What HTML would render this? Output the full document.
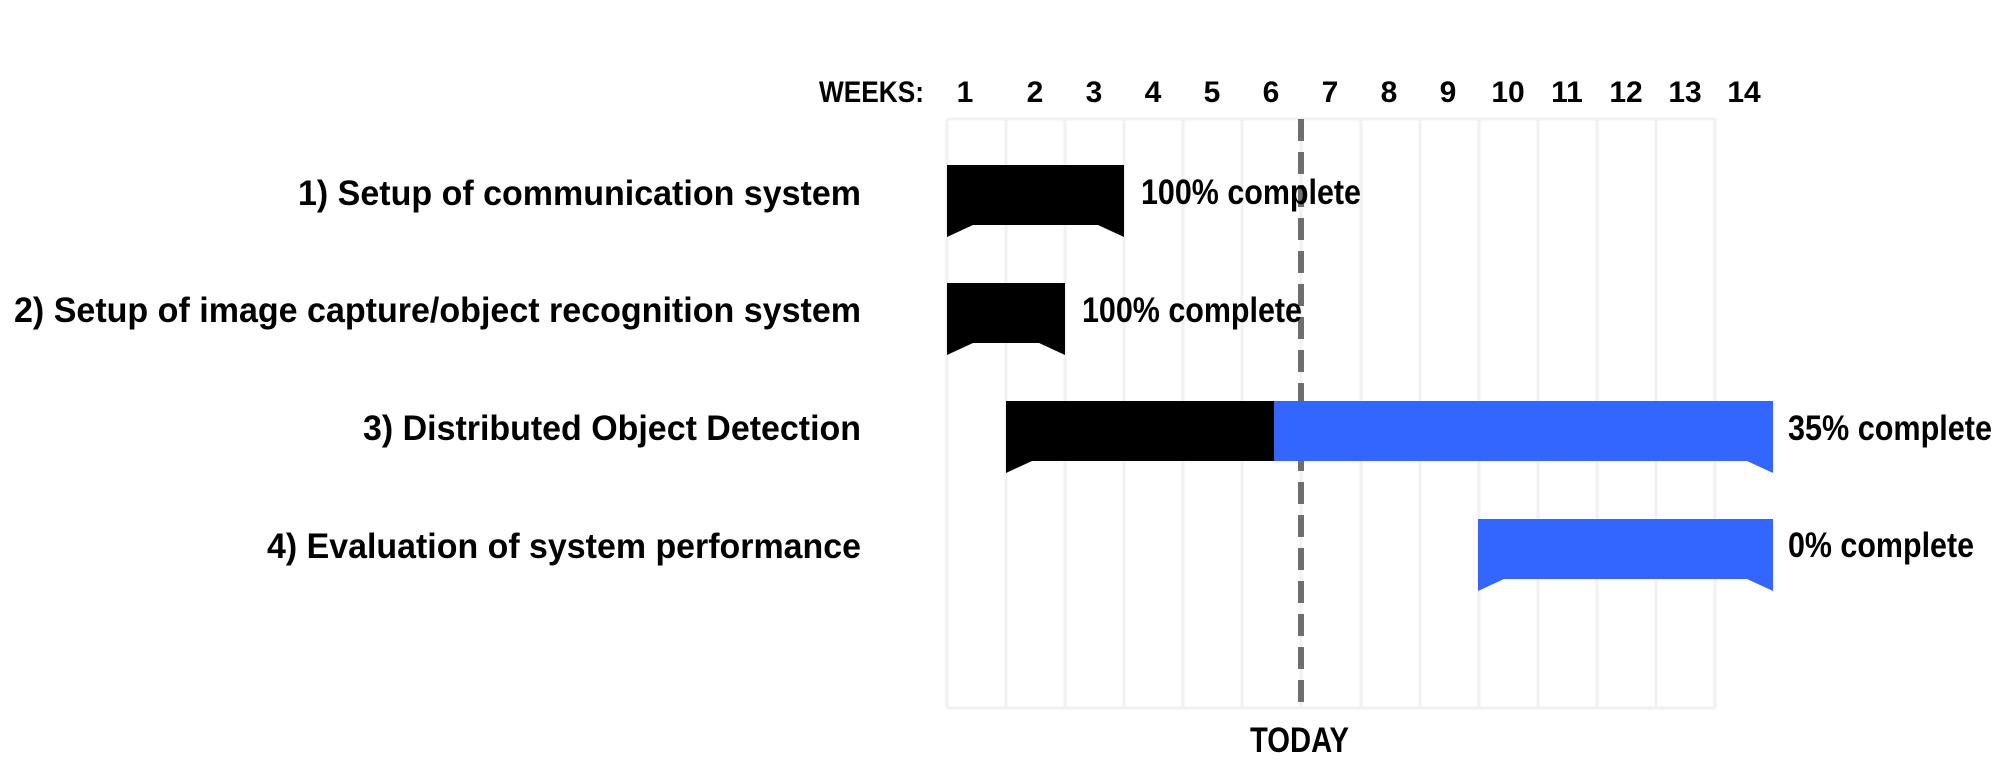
<!DOCTYPE html>
<html><head><meta charset="utf-8"><style>
html,body{margin:0;padding:0;background:#fff;}
svg{display:block;}
text{font-family:"Liberation Sans Narrow","Liberation Sans",sans-serif;font-weight:bold;fill:#000;}
</style></head><body>
<svg width="2007" height="768" viewBox="0 0 2007 768" xmlns="http://www.w3.org/2000/svg">
<rect width="2007" height="768" fill="#fff"/>
<g stroke="#f1f1f1" stroke-width="3" fill="none">
<line x1="947" y1="119" x2="947" y2="708"/>
<line x1="1006" y1="119" x2="1006" y2="708"/>
<line x1="1065" y1="119" x2="1065" y2="708"/>
<line x1="1124" y1="119" x2="1124" y2="708"/>
<line x1="1183" y1="119" x2="1183" y2="708"/>
<line x1="1242" y1="119" x2="1242" y2="708"/>
<line x1="1301" y1="119" x2="1301" y2="708"/>
<line x1="1361" y1="119" x2="1361" y2="708"/>
<line x1="1420" y1="119" x2="1420" y2="708"/>
<line x1="1479" y1="119" x2="1479" y2="708"/>
<line x1="1538" y1="119" x2="1538" y2="708"/>
<line x1="1597" y1="119" x2="1597" y2="708"/>
<line x1="1656" y1="119" x2="1656" y2="708"/>
<line x1="1715" y1="119" x2="1715" y2="708"/>
<line x1="947" y1="119" x2="1715" y2="119"/>
<line x1="947" y1="708" x2="1715" y2="708"/>
</g>
<line x1="1301" y1="119" x2="1301" y2="708" stroke="#6e6e6e" stroke-width="6" stroke-dasharray="22,11"/>
<path d="M947 165 H1124 V237 L1098 225 H973 L947 237 Z" fill="#000"/>
<path d="M947 283 H1065 V355 L1039 343 H973 L947 355 Z" fill="#000"/>
<path d="M1274 401 H1773 V473 L1747 461 H1274 Z" fill="#3366ff"/>
<path d="M1006 401 H1274 V461 H1032 L1006 473 Z" fill="#000"/>
<path d="M1478 519 H1773 V591 L1747 579 H1504 L1478 591 Z" fill="#3366ff"/>
<text x="819" y="102" font-size="30" textLength="105" lengthAdjust="spacingAndGlyphs">WEEKS:</text>
<g font-size="30" text-anchor="middle">
<text x="965" y="102">1</text>
<text x="1035" y="102">2</text>
<text x="1094" y="102">3</text>
<text x="1153" y="102">4</text>
<text x="1212" y="102">5</text>
<text x="1271" y="102">6</text>
<text x="1330" y="102">7</text>
<text x="1389" y="102">8</text>
<text x="1448" y="102">9</text>
<text x="1508" y="102">10</text>
<text x="1567" y="102">11</text>
<text x="1626" y="102">12</text>
<text x="1685" y="102">13</text>
<text x="1744" y="102">14</text>
</g>
<g font-size="35">
<text x="298" y="205" textLength="563" lengthAdjust="spacingAndGlyphs">1) Setup of communication system</text>
<text x="14" y="322" textLength="847" lengthAdjust="spacingAndGlyphs">2) Setup of image capture/object recognition system</text>
<text x="363" y="440" textLength="498" lengthAdjust="spacingAndGlyphs">3) Distributed Object Detection</text>
<text x="267" y="558" textLength="594" lengthAdjust="spacingAndGlyphs">4) Evaluation of system performance</text>
<text x="1141" y="204" textLength="220" lengthAdjust="spacingAndGlyphs">100% complete</text>
<text x="1082" y="322" textLength="220" lengthAdjust="spacingAndGlyphs">100% complete</text>
<text x="1788" y="440" textLength="204" lengthAdjust="spacingAndGlyphs">35% complete</text>
<text x="1788" y="557" textLength="186" lengthAdjust="spacingAndGlyphs">0% complete</text>
<text x="1250" y="752" textLength="99" lengthAdjust="spacingAndGlyphs">TODAY</text>
</g>
</svg>
</body></html>
